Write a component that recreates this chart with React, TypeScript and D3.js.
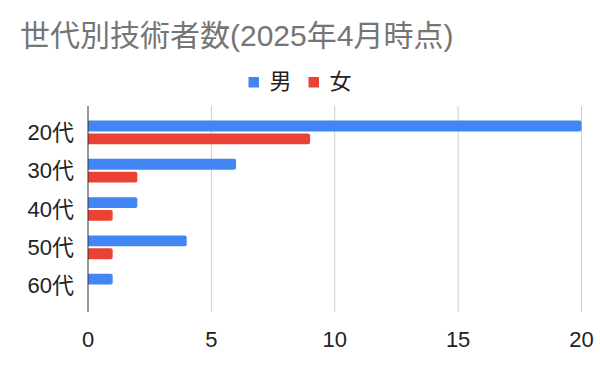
import React from "react";
import * as d3 from "d3";

const categories = ["20代", "30代", "40代", "50代", "60代"];
const seriesNames = ["男", "女"];
const maleValues = [20, 6, 2, 4, 1];
const femaleValues = [9, 2, 1, 1, 0];
const xTicks = [0, 5, 10, 15, 20];
const colors = ["#4285F4", "#EA4335"];
const title = "世代別技術者数(2025年4月時点)";

const FONT = "'Liberation Sans', Arial, 'Noto Sans CJK JP', sans-serif";

const App = () => {
  const svgRef = React.useRef(null);
  const width = 600;
  const height = 371;

  React.useEffect(() => {
    const svg = d3.select(svgRef.current);
    svg.selectAll("*").remove();

    const x = d3.scaleLinear().domain([0, 20]).range([88, 581.5]);
    const y = d3.scaleBand()
      .domain(categories)
      .range([106, 312])
      .paddingInner(0.38)
      .paddingOuter(0.38);
    const ySub = d3.scaleBand()
      .domain(seriesNames)
      .range([0, y.bandwidth()])
      .paddingInner(0.15);

    // title
    svg.append("text")
      .attr("x", 20)
      .attr("y", 46)
      .attr("font-family", FONT)
      .attr("font-size", 30)
      .attr("fill", "#757575")
      .text(title);

    // legend
    const legend = svg.append("g").attr("font-family", FONT);
    const legendX = [248.5, 308.5];
    seriesNames.forEach((name, i) => {
      legend.append("rect")
        .attr("x", legendX[i])
        .attr("y", 77)
        .attr("width", 10.5)
        .attr("height", 10.5)
        .attr("fill", colors[i]);
      legend.append("text")
        .attr("x", legendX[i] + 21)
        .attr("y", 89)
        .attr("font-size", 22)
        .attr("fill", "#222")
        .text(name);
    });

    // grid
    svg.append("g")
      .selectAll("line")
      .data(xTicks.filter(d => d !== 0))
      .enter()
      .append("line")
      .attr("x1", d => x(d))
      .attr("x2", d => x(d))
      .attr("y1", 106)
      .attr("y2", 312)
      .attr("stroke", "#cccccc")
      .attr("stroke-width", 1);

    // x tick labels
    svg.append("g")
      .selectAll("text")
      .data(xTicks)
      .enter()
      .append("text")
      .attr("x", d => x(d))
      .attr("y", 347)
      .attr("text-anchor", "middle")
      .attr("font-family", FONT)
      .attr("font-size", 22)
      .attr("fill", "#222")
      .text(d => d);

    // bars
    const series = [maleValues, femaleValues];
    const r = 2;
    series.forEach((vals, si) => {
      svg.append("g")
        .selectAll("path")
        .data(vals.map((v, i) => ({ v, c: categories[i] })).filter(d => d.v > 0))
        .enter()
        .append("path")
        .attr("fill", colors[si])
        .attr("d", d => {
          const x0 = x(0);
          const x1 = x(d.v);
          const y0 = y(d.c) + ySub(seriesNames[si]);
          const h = ySub.bandwidth();
          const p = d3.path();
          p.moveTo(x0, y0);
          p.lineTo(x1 - r, y0);
          p.arcTo(x1, y0, x1, y0 + r, r);
          p.lineTo(x1, y0 + h - r);
          p.arcTo(x1, y0 + h, x1 - r, y0 + h, r);
          p.lineTo(x0, y0 + h);
          p.closePath();
          return p.toString();
        });
    });

    // baseline axis
    svg.append("line")
      .attr("x1", x(0))
      .attr("x2", x(0))
      .attr("y1", 106)
      .attr("y2", 312)
      .attr("stroke", "#333")
      .attr("stroke-width", 1);

    // y labels
    svg.append("g")
      .selectAll("text")
      .data(categories)
      .enter()
      .append("text")
      .attr("x", 74)
      .attr("y", d => y(d) + y.bandwidth() / 2)
      .attr("dy", "0.35em")
      .attr("text-anchor", "end")
      .attr("font-family", FONT)
      .attr("font-size", 22)
      .attr("fill", "#222")
      .text(d => d);
  }, []);

  return (
    <svg
      ref={svgRef}
      width={width}
      height={height}
      style={{ position: "absolute", left: 0, top: 0, background: "#fff" }}
    />
  );
};

export default App;
